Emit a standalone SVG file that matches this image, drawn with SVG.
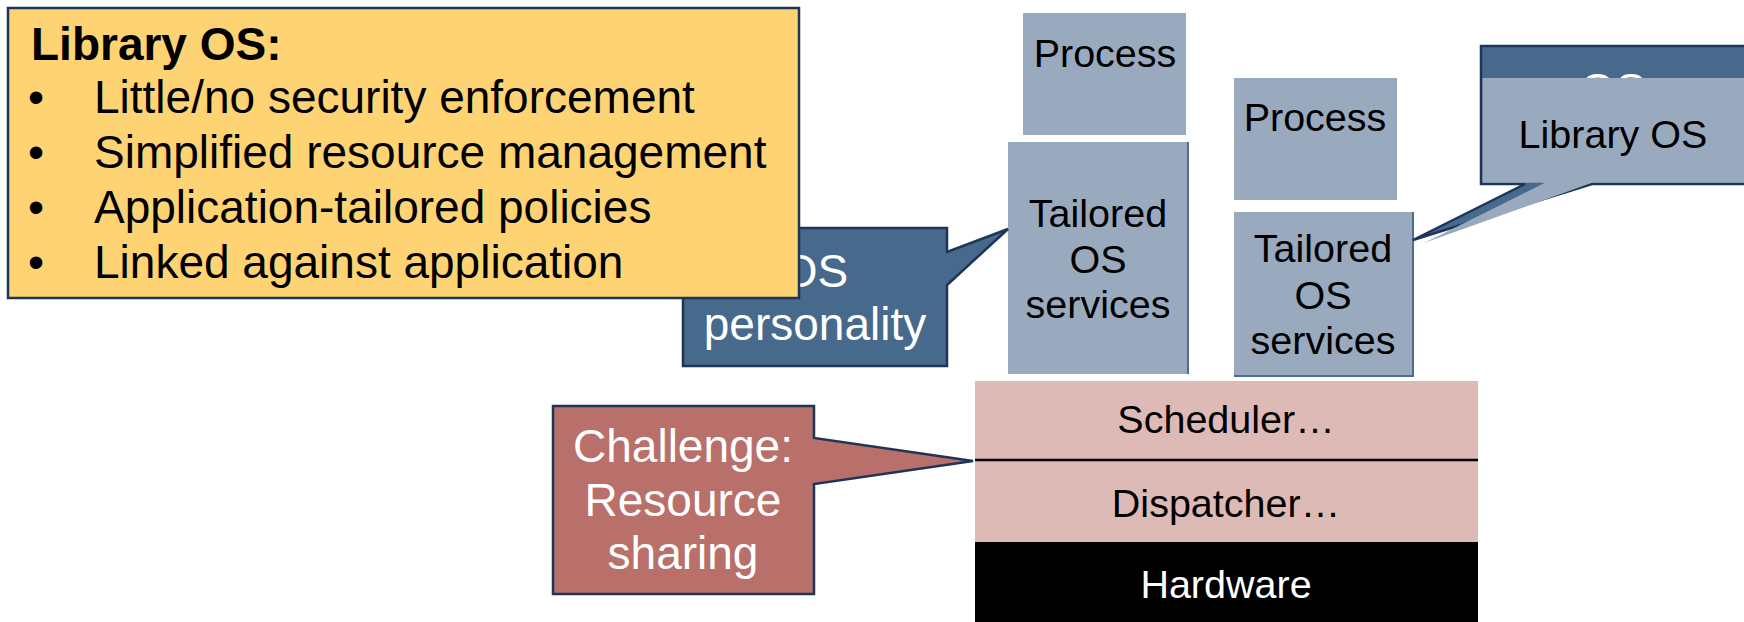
<svg xmlns="http://www.w3.org/2000/svg" width="1744" height="622" viewBox="0 0 1744 622">
<style>
text{font-family:"Liberation Sans",Arial,sans-serif}
.box{fill:#9AAABE}
.lbl{font-size:39.5px;fill:#000;text-anchor:middle}
.wl{font-size:46px;fill:#fff;text-anchor:middle}
.bl{font-size:46px;fill:#000}
.edge{stroke:#4C6C90;stroke-width:2;fill:none}
.co{stroke:#1C3558;stroke-width:2.5;stroke-linejoin:miter}
</style>
<rect width="1744" height="622" fill="#fff"/>
<g id="process1"><rect class="box" x="1023" y="13" width="163" height="122"/><text class="lbl" x="1105" y="67">Process</text></g>
<g id="tailored1"><rect class="box" x="1008" y="142" width="180" height="232"/><line class="edge" x1="1188" y1="142" x2="1188" y2="374"/><text class="lbl" x="1098" y="227">Tailored</text><text class="lbl" x="1098" y="273">OS</text><text class="lbl" x="1098" y="318">services</text></g>
<g id="process2"><rect class="box" x="1234" y="78" width="163" height="122"/><text class="lbl" x="1315" y="131">Process</text></g>
<g id="tailored2"><rect class="box" x="1234" y="212" width="179" height="164"/><polyline class="edge" points="1413,212 1413,376 1234,376"/><text class="lbl" x="1323" y="262">Tailored</text><text class="lbl" x="1323" y="309">OS</text><text class="lbl" x="1323" y="354">services</text></g>
<g id="scheduler"><rect x="975" y="381" width="503" height="79" fill="#DDBAB5"/><text class="lbl" x="1226" y="433">Scheduler…</text></g>
<g id="dispatcher"><rect x="975" y="460" width="503" height="82" fill="#DDBAB5"/><text class="lbl" x="1226" y="517">Dispatcher…</text></g>
<g id="hardware"><rect x="975" y="542" width="503" height="80" fill="#000"/><text class="lbl" x="1226" y="598" fill="#fff" style="fill:#fff">Hardware</text></g>
<g id="connectors"><line x1="975" y1="460" x2="1478" y2="460" stroke="#000" stroke-width="2.5"/></g>
<g id="challenge"><polygon class="co" fill="#B9706A" points="553,406 814,406 814,438 973,461 814,484 814,594 553,594"/><text class="wl" x="683" y="462">Challenge:</text><text class="wl" x="683" y="516">Resource</text><text class="wl" x="683" y="569">sharing</text></g>
<g id="os-personality"><polygon class="co" fill="#47698C" points="683,228 947,228 947,252 1008,229 947,285 947,366 683,366"/><text class="wl" x="815" y="287">OS</text><text class="wl" x="815" y="340">personality</text></g>
<g id="library-os-notes"><rect x="8" y="8" width="791" height="290" fill="#FED373" stroke="#1C3558" stroke-width="2.5"/>
<text class="bl" x="31" y="60" font-weight="bold">Library OS:</text>
<text class="bl" x="28" y="113">•</text><text class="bl" x="94" y="113">Little/no security enforcement</text>
<text class="bl" x="28" y="168">•</text><text class="bl" x="94" y="168">Simplified resource management</text>
<text class="bl" x="28" y="223">•</text><text class="bl" x="94" y="223">Application-tailored policies</text>
<text class="bl" x="28" y="278">•</text><text class="bl" x="94" y="278">Linked against application</text></g>
<g id="os-callout"><polygon class="co" fill="#47698C" points="1481,46 1760,46 1760,184 1592,184 1413,240 1525,184 1481,184"/><text class="wl" x="1613" y="106">OS</text></g>
<g id="library-os-callout"><polygon fill="#9AAABE" points="1482.5,78 1760,78 1760,182.8 1592,182.8 1424,243 1545,182.8 1482.5,182.8"/><text class="lbl" x="1613" y="148">Library OS</text></g>
</svg>
